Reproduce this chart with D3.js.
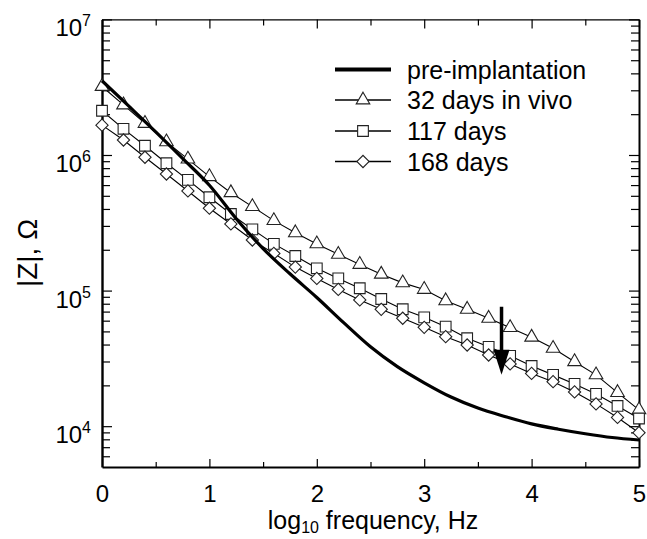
<!DOCTYPE html>
<html>
<head>
<meta charset="utf-8">
<script src="https://cdn.jsdelivr.net/npm/d3@7/dist/d3.min.js"></script>
<style>
  body { margin: 0; background: #fff; }
  text { font-family: "Liberation Sans", Arial, sans-serif; fill: #000; }
</style>
</head>
<body>
<svg id="chart" width="647" height="539"></svg>
<script>
// log10 frequency of the measured points
const logFreq = [0, 0.2, 0.4, 0.6, 0.8, 1.0, 1.2, 1.4, 1.6, 1.8, 2.0, 2.2, 2.4,
  2.6, 2.8, 3.0, 3.2, 3.4, 3.6, 3.8, 4.0, 4.2, 4.4, 4.6, 4.8, 5.0]

// |Z| in ohms
const day32 = [3.2e6, 2.34e6, 1.71e6, 1.25e6, 9.33e5, 6.92e5, 5.27e5, 4.16e5, 3.28e5,
  2.67e5, 2.21e5, 1.85e5, 1.56e5, 1.32e5, 1.14e5, 1.02e5, 8.41e4, 7.28e4, 6.25e4,
  5.33e4, 4.53e4, 3.75e4, 2.99e4, 2.39e4, 1.77e4, 1.32e4]
const day117 = [2.12e6, 1.56e6, 1.17e6, 8.69e5, 6.55e5, 4.88e5, 3.67e5, 2.83e5, 2.21e5,
  1.80e5, 1.46e5, 1.23e5, 1.04e5, 8.67e4, 7.28e4, 6.35e4, 5.42e4, 4.45e4, 3.85e4,
  3.30e4, 2.78e4, 2.39e4, 2.05e4, 1.73e4, 1.41e4, 1.14e4]
const day168 = [1.66e6, 1.29e6, 9.62e5, 7.24e5, 5.43e5, 4.05e5, 3.10e5, 2.36e5, 1.88e5,
  1.49e5, 1.23e5, 1.02e5, 8.53e4, 7.28e4, 6.25e4, 5.36e4, 4.57e4, 3.97e4, 3.35e4,
  2.88e4, 2.45e4, 2.13e4, 1.79e4, 1.46e4, 1.16e4, 8.95e3]

// pre-implantation curve (no markers)
const preFreq = [0, 0.25, 0.5, 0.75, 1.0, 1.25, 1.5, 1.75, 2.0, 2.25, 2.5, 2.75, 3.0,
  3.25, 3.5, 3.75, 4.0, 4.25, 4.5, 4.75, 5.0]
const preZ = [3.53e6, 2.29e6, 1.48e6, 9.44e5, 5.98e5, 3.39e5, 2.04e5, 1.33e5, 8.9e4,
  5.8e4, 3.85e4, 2.75e4, 2.09e4, 1.64e4, 1.36e4, 1.18e4, 1.04e4, 9.5e3, 8.8e3,
  8.25e3, 7.91e3]

const legendNames = ['pre-implantation', '32 days in vivo', '117 days', '168 days']
const xMajor = [0, 1, 2, 3, 4, 5]
const xMinor = [0.5, 1.5, 2.5, 3.5, 4.5]
const yMajor = [1e4, 1e5, 1e6, 1e7]
const yMinor = [6e3, 7e3, 8e3, 9e3, 2e4, 3e4, 4e4, 5e4, 6e4, 7e4, 8e4, 9e4,
  2e5, 3e5, 4e5, 5e5, 6e5, 7e5, 8e5, 9e5, 2e6, 3e6, 4e6, 5e6, 6e6, 7e6, 8e6, 9e6]
// arrow annotation: at log f, from |Z| to |Z|
const arrow = { f: 3.72, from: 7.6e4, to: 2.39e4 }

const svg = d3.select('#chart')
const pLeft = 102, pRight = 639, pTop = 19.4, pBottom = 467

const x = d3.scaleLinear().domain([0, 5]).range([pLeft, pRight])
const y = d3.scaleLog().domain([5000, 1e7]).range([pBottom, pTop])

// axes, all ticks pointing inwards
function styleAxis (g, w) {
  g.select('.domain').attr('stroke', '#000').attr('stroke-width', w)
  g.selectAll('.tick line').attr('stroke', '#000').attr('stroke-width', 1.2)
}

svg.append('g').attr('transform', `translate(0,${pBottom})`)
  .call(d3.axisBottom(x).tickValues(xMajor).tickSize(-8).tickSizeOuter(0).tickFormat(d3.format('d')))
  .call(g => styleAxis(g, 1.8))
  .call(g => g.selectAll('.tick text').attr('y', 35).attr('dy', 0).attr('font-size', 24)
    .attr('font-family', '"Liberation Sans", Arial, sans-serif'))
svg.append('g').attr('transform', `translate(0,${pBottom})`)
  .call(d3.axisBottom(x).tickValues(xMinor).tickSize(-5).tickFormat(''))
  .call(g => g.select('.domain').remove())
  .call(g => styleAxis(g, 1))

svg.append('g').attr('transform', `translate(0,${pTop})`)
  .call(d3.axisTop(x).tickValues(xMajor).tickSize(-9).tickSizeOuter(0).tickFormat(''))
  .call(g => styleAxis(g, 1.2))
svg.append('g').attr('transform', `translate(0,${pTop})`)
  .call(d3.axisTop(x).tickValues(xMinor).tickSize(-6).tickFormat(''))
  .call(g => g.select('.domain').remove())
  .call(g => styleAxis(g, 1))

svg.append('g').attr('transform', `translate(${pLeft},0)`)
  .call(d3.axisLeft(y).tickValues(yMajor).tickSize(-10).tickSizeOuter(0).tickFormat(''))
  .call(g => styleAxis(g, 2.4))
svg.append('g').attr('transform', `translate(${pLeft},0)`)
  .call(d3.axisLeft(y).tickValues(yMinor).tickSize(-8).tickFormat(''))
  .call(g => g.select('.domain').remove())
  .call(g => styleAxis(g, 1))

svg.append('g').attr('transform', `translate(${pRight},0)`)
  .call(d3.axisRight(y).tickValues(yMajor).tickSize(-10).tickSizeOuter(0).tickFormat(''))
  .call(g => styleAxis(g, 2))
svg.append('g').attr('transform', `translate(${pRight},0)`)
  .call(d3.axisRight(y).tickValues(yMinor).tickSize(-8).tickFormat(''))
  .call(g => g.select('.domain').remove())
  .call(g => styleAxis(g, 1))

// y tick labels as 10^n
const yLab = svg.append('g').selectAll('text').data(yMajor).enter().append('text')
  .attr('x', 91).attr('y', d => y(d) + 17)
  .attr('text-anchor', 'end').attr('font-size', 24)
yLab.append('tspan').text('10')
yLab.append('tspan').attr('dy', -10).attr('font-size', 16).text(d => Math.round(Math.log10(d)))

// axis titles
const xt = svg.append('text').attr('x', 373).attr('y', 529)
  .attr('text-anchor', 'middle').attr('font-size', 25)
xt.append('tspan').text('log')
xt.append('tspan').attr('dy', 4).attr('font-size', 16).text('10')
xt.append('tspan').attr('dy', -4).text(' frequency, Hz')

svg.append('text').attr('transform', 'translate(37,253) rotate(-90)')
  .attr('text-anchor', 'middle').attr('font-size', 28).text('|Z|, \u03A9')

// series
const symTri = d3.symbol(d3.symbolTriangle, 80)
const symSq = d3.symbol(d3.symbolSquare, 115)
const symDia = d3.symbol(d3.symbolSquare, 75)
const series = [
  { values: day32, path: symTri(), rot: 0 },
  { values: day117, path: symSq(), rot: 0 },
  { values: day168, path: symDia(), rot: 45 }
]
const line = d3.line().x(d => x(d[0])).y(d => y(d[1]))

series.forEach(s => {
  const pts = logFreq.map((f, i) => [f, s.values[i]])
  svg.append('path').datum(pts).attr('d', line)
    .attr('fill', 'none').attr('stroke', '#000').attr('stroke-width', 1.1)
  svg.append('g').selectAll('path').data(pts).enter().append('path')
    .attr('d', s.path)
    .attr('transform', d => `translate(${x(d[0])},${y(d[1])}) rotate(${s.rot})`)
    .attr('fill', '#fff').attr('stroke', '#222').attr('stroke-width', 1.1)
})

svg.append('path').datum(preFreq.map((f, i) => [f, preZ[i]]))
  .attr('d', line.curve(d3.curveMonotoneX))
  .attr('fill', 'none').attr('stroke', '#000').attr('stroke-width', 3.2)

// arrow
const ax = x(arrow.f), ay0 = y(arrow.from), ay1 = y(arrow.to)
svg.append('line').attr('x1', ax).attr('x2', ax).attr('y1', ay0).attr('y2', ay1 - 20)
  .attr('stroke', '#000').attr('stroke-width', 3.5)
svg.append('path')
  .attr('d', `M${ax - 8},${ay1 - 25}L${ax + 8},${ay1 - 25}L${ax},${ay1}Z`)
  .attr('fill', '#000')

// legend
const legY = [69.5, 100, 131, 161.5]
const leg = svg.append('g')
legendNames.forEach((name, i) => {
  leg.append('line').attr('x1', 335).attr('x2', 391).attr('y1', legY[i]).attr('y2', legY[i])
    .attr('stroke', '#000').attr('stroke-width', i === 0 ? 4 : 1.3)
  if (i > 0) {
    const s = series[i - 1]
    leg.append('path').attr('d', s.path)
      .attr('transform', `translate(363,${legY[i]}) rotate(${s.rot})`)
      .attr('fill', '#fff').attr('stroke', '#222').attr('stroke-width', 1.1)
  }
  leg.append('text').attr('x', 407).attr('y', legY[i] + 9).attr('font-size', 25).text(name)
})
</script>
</body>
</html>
